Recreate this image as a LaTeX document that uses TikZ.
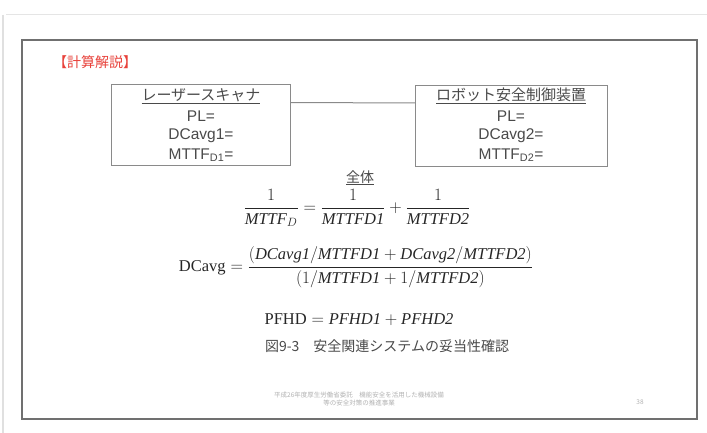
\documentclass[tikz,border=0pt]{standalone}
\usepackage{fontspec}
\setmainfont{Liberation Serif}
\newfontfamily\jpfont{Noto Sans CJK JP}
\newfontfamily\boxfont{Liberation Sans}
\definecolor{framegray}{HTML}{707070}
\definecolor{boxgray}{HTML}{8A8A8A}
\definecolor{txtgray}{HTML}{4A4A4A}
\definecolor{titlered}{HTML}{E8413A}
\begin{document}
\begin{tikzpicture}[x=1pt,y=-1pt,
  plain/.style={inner sep=0pt,outer sep=0pt},
  boxtxt/.style={plain,font=\boxfont\fontsize{15.5}{17}\selectfont,text=txtgray},
  boxhead/.style={plain,font=\jpfont\fontsize{15}{17}\selectfont,text=txtgray},
  unitbox/.style={draw=boxgray,line width=1pt,minimum width=179pt,minimum height=81pt,inner sep=0pt},
  formula/.style={plain,font=\fontsize{16.5}{19}\selectfont,text=black!85},
  footer/.style={plain,font=\jpfont\fontsize{6.5}{8}\selectfont,text=black!30}]
\useasboundingbox (0,0) rectangle (707,433);
\fill[white] (0,0) rectangle (707,433);
% screenshot edges
\draw[black!10,line width=1pt] (6,15) -- (707,15);
\draw[black!12,line width=1.5pt] (3,15) -- (3,433);
% page frame
\node[draw=framegray,line width=2pt,minimum width=675pt,minimum height=379pt,inner sep=0pt] (frame) at (359.5,229.5) {};
% title
\node[plain,font=\jpfont\fontsize{14}{16}\selectfont,text=titlered] (title) at (95,62) {【計算解説】};
% boxes
\node[unitbox] (boxL) at (200.5,125.5) {};
\node[unitbox,minimum width=192pt] (boxR) at (511.5,126) {};
\draw[boxgray,line width=1pt] ([yshift=-18pt]boxL.north east) -- ([yshift=-18pt]boxR.north west);
% left box texts
\node[boxhead] (hL) at (201,95) {レーザースキャナ};
\draw[txtgray,line width=0.9pt] ([yshift=-2pt]hL.south west) -- ([yshift=-2pt]hL.south east);
\node[boxtxt] (plL) at (201,116) {PL=};
\node[boxtxt] (dcL) at (201,136) {DCavg1=};
\node[boxtxt] (mtL) at (201,155) {MTTF\textsubscript{D1}=};
% right box texts
\node[boxhead] (hR) at (511,95) {ロボット安全制御装置};
\draw[txtgray,line width=0.9pt] ([yshift=-2pt]hR.south west) -- ([yshift=-2pt]hR.south east);
\node[boxtxt] (plR) at (511,116) {PL=};
\node[boxtxt] (dcR) at (511,136) {DCavg2=};
\node[boxtxt] (mtR) at (511,155) {MTTF\textsubscript{D2}=};
% whole
\node[plain,font=\jpfont\fontsize{14}{16}\selectfont,text=txtgray] (whole) at (360,177) {全体};
\draw[txtgray,line width=0.9pt] ([yshift=-1.5pt]whole.south west) -- ([yshift=-1.5pt]whole.south east);
% formulas
\node[formula] (f1) at (357,208) {$\displaystyle \frac{1}{\mathit{MTTF}_{D}}=\frac{1}{\mathit{MTTFD1}}+\frac{1}{\mathit{MTTFD2}}$};
\node[formula] (f2) at (356,267) {$\displaystyle \mathrm{DCavg}=\frac{(\mathit{DCavg1}/\mathit{MTTFD1}+\mathit{DCavg2}/\mathit{MTTFD2})}{(1/\mathit{MTTFD1}+1/\mathit{MTTFD2})}$};
\node[formula] (f3) at (359,320) {$\mathrm{PFHD}=\mathit{PFHD1}+\mathit{PFHD2}$};
% caption
\node[plain,font=\jpfont\fontsize{14}{16}\selectfont,text=txtgray] (cap) at (387,346) {図9-3\quad 安全関連システムの妥当性確認};
% footer
\node[footer,align=center] (foot) at (359,399) {平成26年度厚生労働省委託　機能安全を活用した機械設備\\等の安全対策の推進事業};
\node[footer] (pg) at (640,402) {38};
\end{tikzpicture}
\end{document}
